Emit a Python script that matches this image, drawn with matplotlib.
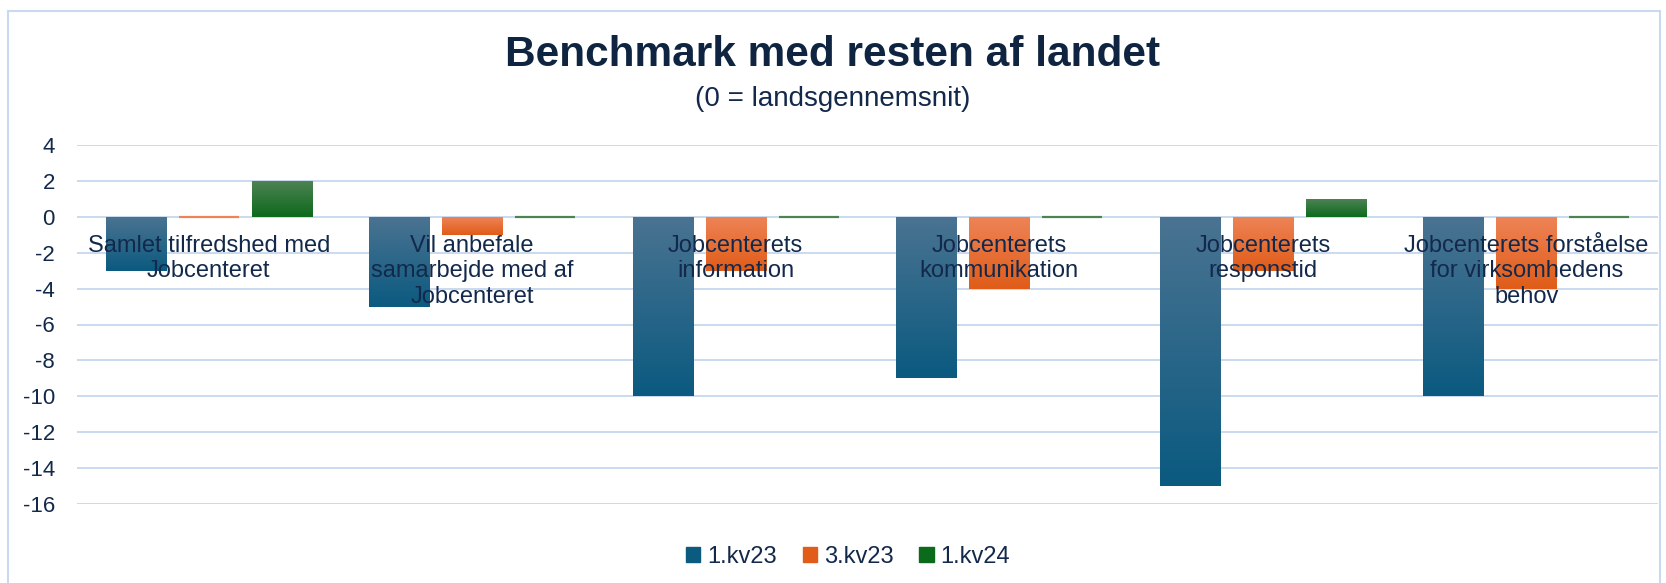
import matplotlib
matplotlib.use('Agg')
import matplotlib.pyplot as plt
import numpy as np
from matplotlib.colors import LinearSegmentedColormap
from matplotlib.patches import Rectangle

categories = ['Samlet tilfredshed med\nJobcenteret',
              'Vil anbefale\nsamarbejde med af\nJobcenteret',
              'Jobcenterets\ninformation',
              'Jobcenterets\nkommunikation',
              'Jobcenterets\nresponstid',
              'Jobcenterets forståelse\nfor virksomhedens\nbehov']
series_names = ['1.kv23', '3.kv23', '1.kv24']
kv1_23 = [-3, -5, -10, -9, -15, -10]
kv3_23 = [0, -1, -3, -4, -3, -4]
kv1_24 = [2, 0, 0, 0, 1, 0]
y_ticks = [4, 2, 0, -2, -4, -6, -8, -10, -12, -14, -16]

# lys top -> mørk bund, som i Excel-gradienten
colours = [('#4a7391', '#0b5a80'), ('#ee8356', '#e05c18'), ('#4d8253', '#0c6a1c')]
text_col = '#13294b'
grid_col = '#c9daf0'

plt.rcParams['font.family'] = ['Liberation Sans', 'DejaVu Sans']

fig = plt.figure(figsize=(16.66, 5.83), dpi=100)
ax = fig.add_axes([77 / 1666, 79 / 583, 1581 / 1666, 359 / 583])

x = np.arange(len(categories))
width = 0.228
step = 0.277
data = [kv1_23, kv3_23, kv1_24]

for k, values in enumerate(data):
    top, bottom = colours[k]
    cmap = LinearSegmentedColormap.from_list('g%d' % k, [top, bottom])
    lws = [1.6 if v == 0 else 0 for v in values]
    rects = ax.bar(x + (k - 1) * step, values, width, color=bottom,
                   edgecolor=top, linewidth=lws, zorder=2)
    for r, v in zip(rects, values):
        if v == 0:
            continue
        x0 = r.get_x()
        y0 = min(0, v)
        y1 = max(0, v)
        grad = np.linspace(0, 1, 100).reshape(-1, 1)
        im = ax.imshow(grad, cmap=cmap, aspect='auto', origin='upper',
                       extent=[x0, x0 + width, y0, y1], zorder=3)
        im.set_clip_path(r)

ax.set_xlim(-0.5, len(categories) - 0.5)
ax.set_ylim(-16, 4)
ax.set_yticks(y_ticks)
ax.set_yticklabels([str(t) for t in y_ticks])
ax.tick_params(axis='y', length=0, pad=16, labelsize=16, labelcolor=text_col)
ax.set_xticks([])
ax.yaxis.grid(True, color=grid_col, linewidth=1.4)
ax.set_axisbelow(True)
for s in ax.spines.values():
    s.set_visible(False)

for i, name in enumerate(categories):
    ax.annotate(name, (i, 0), xytext=(0, -13), textcoords='offset points',
                ha='center', va='top', fontsize=17, color=text_col,
                linespacing=1.2, zorder=5)

fig.text(0.5, 1 - 55 / 583, 'Benchmark med resten af landet', ha='center',
         va='center', fontsize=30.5, fontweight='bold', color='#0f2440')
fig.text(0.5, 1 - 99 / 583, '(0 = landsgennemsnit)', ha='center',
         va='center', fontsize=20, color=text_col)

handles = [Rectangle((0, 0), 1, 1, color=c[1]) for c in colours]
fig.legend(handles, series_names, loc='center', bbox_to_anchor=(848 / 1666, 1 - 557 / 583),
           ncol=3, frameon=False, fontsize=17, labelcolor=text_col,
           handlelength=0.6, handleheight=0.6, handletextpad=0.3, columnspacing=1.1)

# ramme rundt om diagrammet
fig.patches.append(Rectangle((8 / 1666, -0.05), 1652 / 1666, 1.05 - 11 / 583,
                             transform=fig.transFigure, fill=False,
                             edgecolor=grid_col, linewidth=1.5))

fig.savefig('out.png', dpi=100)
